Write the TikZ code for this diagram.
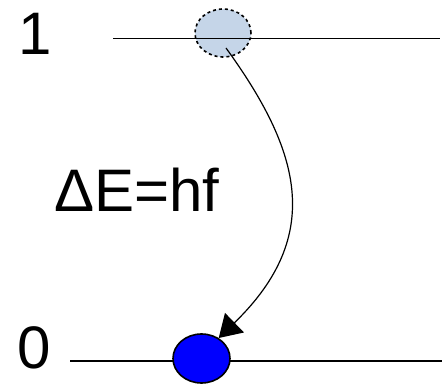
\documentclass[tikz,border=0pt]{standalone}
\usepackage{fontspec}
\setmainfont{Liberation Sans}
\usetikzlibrary{arrows.meta,shapes.geometric}
\definecolor{paleblue}{RGB}{197,213,232}
\begin{document}
\begin{tikzpicture}[x=1pt,y=1pt,
  level/.style={draw=black,line width=1.1pt},
  state/.style={ellipse,draw=black,line width=1.6pt,inner sep=0pt,minimum width=56pt,minimum height=48pt},
  lbl/.style={inner sep=0pt,anchor=base west,font=\fontsize{60}{60}\selectfont},
  trans/.style={draw=black,line width=1.2pt,-{Triangle[length=22pt,width=27pt]}}]
\useasboundingbox (0,0) rectangle (442,385);
% upper state
\node[state,dashed,fill=paleblue] (e1) at (223,352) {};
\coordinate (l1a) at (113,346.5);
\coordinate (l1b) at (440,346.5);
\draw[level] (l1a) -- (l1b);
% lower state
\coordinate (l0a) at (70,24);
\coordinate (l0b) at (442,24);
\draw[level] (l0a) -- (l0b);
\node[state,fill=blue,minimum width=57pt,minimum height=49pt] (e0) at (201.5,26.5) {};
% labels
\node[lbl] (n1) at (18.5,330) {1};
\node[lbl] (n0) at (17.5,16) {0};
\node[lbl] (de) at (54,173.3) {ΔE=hf};
% transition
\coordinate (s) at ([shift={(3pt,-15pt)}]e1.center);
\draw[trans] (s) .. controls (300,235) and (325,150) .. (e0.50);
\end{tikzpicture}
\end{document}
